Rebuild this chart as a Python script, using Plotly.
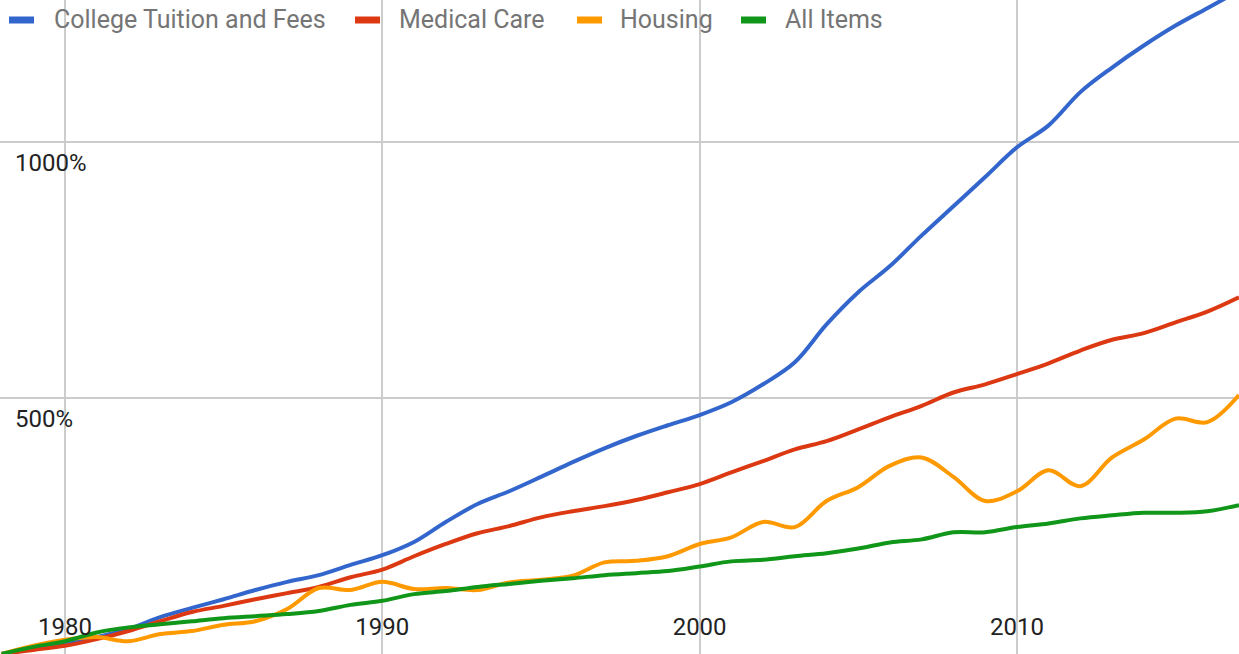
import plotly.graph_objects as go

years = list(range(1978, 2018))

college_tuition = [0, 10, 20, 33, 49, 72, 90, 107, 125, 141,
                   154, 174, 193, 219, 258, 293, 318, 346, 375, 402,
                   426, 447, 467, 492, 527, 570, 644, 707, 758, 818,
                   875, 932, 990, 1033, 1098, 1146, 1189, 1228, 1262, 1296]
medical_care = [0, 8, 16, 29, 45, 64, 82, 94, 107, 119,
                131, 150, 165, 191, 215, 236, 250, 267, 279, 289,
                301, 316, 332, 355, 377, 400, 416, 439, 463, 485,
                511, 527, 547, 568, 593, 614, 627, 648, 669, 697]
housing = [0, 16, 28, 33, 25, 39, 45, 57, 64, 88,
           129, 125, 141, 127, 129, 125, 140, 145, 153, 179,
           182, 191, 215, 228, 258, 248, 299, 326, 368, 384,
           346, 299, 318, 359, 328, 384, 419, 460, 453, 506]
all_items = [0, 14, 25, 42, 52, 58, 64, 70, 74, 78,
             84, 96, 104, 117, 123, 131, 137, 143, 148, 154,
             158, 162, 171, 181, 184, 191, 197, 206, 218, 224,
             238, 238, 248, 255, 265, 271, 276, 276, 279, 291]

series_names = ["College Tuition and Fees", "Medical Care", "Housing", "All Items"]
series_values = [college_tuition, medical_care, housing, all_items]
colors = ["#3366CC", "#DC3912", "#FF9900", "#109618"]

x_ticks = [1980, 1990, 2000, 2010]
y_ticks = [500, 1000]
y_tick_labels = ["500%", "1000%"]

W, H = 1239, 654
FONT = "Roboto, Arial, sans-serif"

fig = go.Figure()
for name, vals, c in zip(series_names, series_values, colors):
    fig.add_trace(go.Scatter(
        x=years, y=vals, name=name, mode="lines",
        line=dict(color=c, width=4, shape="spline", smoothing=1.0),
        showlegend=False,
    ))

# legend drawn at the top-left, inside the chart area (as in the reference)
legend_mark_x = [9, 355, 577, 741]
legend_text_x = [52, 397, 618, 783]
legend_y = 20
for name, c, mx, tx in zip(series_names, colors, legend_mark_x, legend_text_x):
    fig.add_shape(type="line", xref="paper", yref="paper",
                  x0=mx / W, x1=(mx + 25) / W,
                  y0=1 - legend_y / H, y1=1 - legend_y / H,
                  line=dict(color=c, width=7))
    fig.add_annotation(xref="paper", yref="paper", x=tx / W, y=1 - legend_y / H,
                       xanchor="left", yanchor="middle", showarrow=False,
                       text=name, font=dict(family=FONT, size=25, color="#757575"))

# y tick labels sit inside the plot, just below their gridlines
for v, lab in zip(y_ticks, y_tick_labels):
    fig.add_annotation(xref="paper", yref="y", x=13 / W, y=v,
                       xanchor="left", yanchor="middle", yshift=-21, showarrow=False,
                       text=lab, font=dict(family=FONT, size=24, color="#222222"))

fig.update_layout(
    width=W, height=H,
    margin=dict(l=0, r=0, t=0, b=0),
    paper_bgcolor="white", plot_bgcolor="white",
    font=dict(family=FONT, size=24, color="#222222"),
    showlegend=False,
    xaxis=dict(
        range=[1977.95, 2017.0], tickvals=x_ticks, ticktext=[str(v) for v in x_ticks],
        ticklabelposition="outside", ticklabelstandoff=-44,
        showgrid=True, gridcolor="#cccccc", gridwidth=2,
        zeroline=False, showline=False, ticks="", automargin=False,
    ),
    yaxis=dict(
        range=[0, 1278], tickvals=y_ticks, showticklabels=False,
        showgrid=True, gridcolor="#cccccc", gridwidth=2,
        zeroline=False, showline=False, ticks="", automargin=False,
    ),
)

fig.write_html("out.html", config={"displayModeBar": False},
               post_script="document.body.style.margin='0';")
